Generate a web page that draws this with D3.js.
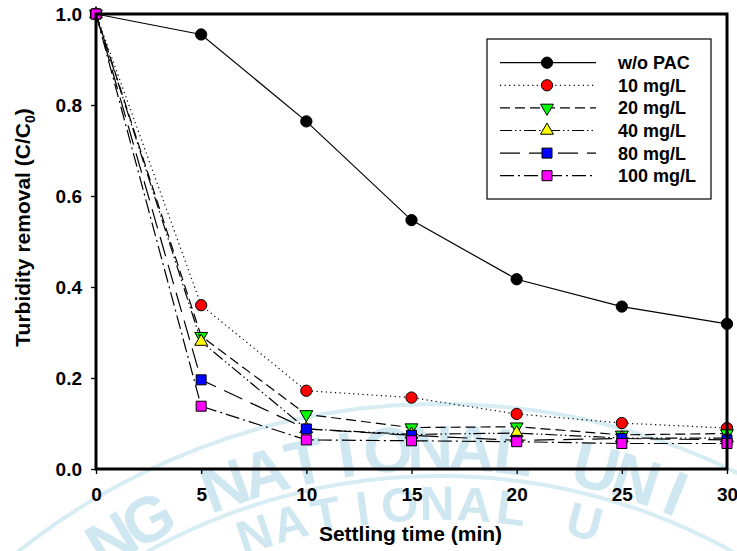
<!DOCTYPE html>
<html>
<head>
<meta charset="utf-8">
<script src="https://cdn.jsdelivr.net/npm/d3@7"></script>
<style>
  html, body { margin: 0; padding: 0; background: #fff; }
  svg { display: block; }
  text { font-family: "Liberation Sans", Arial, sans-serif; font-weight: bold; }
</style>
</head>
<body>
<svg id="chart" width="737" height="551"></svg>
<script>
// Settling time (min)
const times = [0, 5, 10, 15, 20, 25, 30];
// Normalised turbidity C/C0 for each PAC dose
const woPAC  = [1.0, 0.955, 0.764, 0.547, 0.417, 0.357, 0.319];
const mg10   = [1.0, 0.360, 0.172, 0.157, 0.121, 0.101, 0.090];
const mg20   = [1.0, 0.292, 0.120, 0.091, 0.093, 0.075, 0.078];
const mg40   = [1.0, 0.280, 0.088, 0.076, 0.079, 0.068, 0.068];
const mg80   = [1.0, 0.196, 0.088, 0.074, 0.063, 0.067, 0.064];
const mg100  = [1.0, 0.138, 0.064, 0.062, 0.060, 0.056, 0.056];
const seriesNames = ["w/o PAC", "10 mg/L", "20 mg/L", "40 mg/L", "80 mg/L", "100 mg/L"];
const xTicks = [0, 5, 10, 15, 20, 25, 30];
const yTicks = [0.0, 0.2, 0.4, 0.6, 0.8, 1.0];

const series = [
  { name: seriesNames[0], values: woPAC, fill: "#000000", symbol: "circle",  dash: null },
  { name: seriesNames[1], values: mg10,  fill: "#ff0000", symbol: "circle",  dash: "1.2,3.4" },
  { name: seriesNames[2], values: mg20,  fill: "#00ff00", symbol: "triDown", dash: "10,5" },
  { name: seriesNames[3], values: mg40,  fill: "#ffff00", symbol: "triUp",   dash: "12,3,1.5,3,1.5,3" },
  { name: seriesNames[4], values: mg80,  fill: "#0000ff", symbol: "square",  dash: "20,9" },
  { name: seriesNames[5], values: mg100, fill: "#ff00ff", symbol: "square",  dash: "14,4,2,4" }
];

const svg = d3.select("#chart");
const plot = { left: 96, right: 727, top: 14, bottom: 469 };

const x = d3.scaleLinear().domain([0, 30]).range([plot.left, plot.right]);
const y = d3.scaleLinear().domain([0, 1]).range([plot.bottom, plot.top]);

// ---- faint seal watermark behind the figure ----
const wm = svg.append("g").attr("class", "watermark");
const wmC = { x: 440, y: 1080 };
const wmColor = "#cfe7f0";
const rad = d => d * Math.PI / 180;
function arcPath(r, a0, a1) {
  const p0 = [wmC.x + r * Math.sin(rad(a0)), wmC.y - r * Math.cos(rad(a0))];
  const p1 = [wmC.x + r * Math.sin(rad(a1)), wmC.y - r * Math.cos(rad(a1))];
  return `M${p0[0]},${p0[1]} A${r},${r} 0 0 1 ${p1[0]},${p1[1]}`;
}
function ringText(str, r, startDeg, stepDeg, size) {
  str.split("").forEach((ch, i) => {
    if (ch === " ") return;
    const a = startDeg + i * stepDeg;
    const px = wmC.x + r * Math.sin(rad(a));
    const py = wmC.y - r * Math.cos(rad(a));
    wm.append("text")
      .attr("transform", `translate(${px},${py}) rotate(${a})`)
      .attr("text-anchor", "middle")
      .attr("font-size", size)
      .attr("fill", wmColor)
      .text(ch);
  });
}
[676, 604].forEach(r => {
  wm.append("path").attr("d", arcPath(r, -50, 50))
    .attr("fill", "none").attr("stroke", "#d8ecf3").attr("stroke-width", 4);
});
ringText("NG NATIONAL UNI", 610, -31.3, 3.8, 64);
ringText("NATIONAL U", 560, -18.8, 3.7, 48);

// ---- axes ----
const yAxis = d3.axisLeft(y).tickValues(yTicks).tickFormat(d3.format(".1f")).tickSize(5).tickPadding(9);
const xAxis = d3.axisBottom(x).tickValues(xTicks).tickFormat(d3.format("d")).tickSize(5).tickPadding(14);

const gy = svg.append("g").attr("transform", `translate(${plot.left},0)`).call(yAxis);
const gx = svg.append("g").attr("transform", `translate(0,${plot.bottom})`).call(xAxis);
[gx, gy].forEach(g => {
  g.select(".domain").remove();
  g.selectAll(".tick line").attr("stroke", "#000").attr("stroke-width", 1.3);
  g.selectAll(".tick text").attr("font-size", 19).attr("fill", "#000")
    .attr("font-family", "Liberation Sans, Arial, sans-serif").attr("font-weight", "bold");
});
gy.selectAll(".tick text").attr("dy", "0.36em");

// ---- series ----
const symbolPath = (type) => {
  if (type === "circle") return d3.symbol(d3.symbolCircle, 100)();
  if (type === "square") return d3.symbol(d3.symbolSquare, 100)();
  return d3.symbol(d3.symbolTriangle, 72)();
};
const symRotate = (type) => type === "triDown" ? " rotate(180)" : "";

const line = d3.line().x((d, i) => x(times[i])).y(d => y(d));

series.forEach(s => {
  const g = svg.append("g");
  g.append("path")
    .attr("d", line(s.values))
    .attr("fill", "none")
    .attr("stroke", "#000")
    .attr("stroke-width", 1.2)
    .attr("stroke-dasharray", s.dash);
  g.selectAll("path.sym").data(s.values).join("path")
    .attr("class", "sym")
    .attr("d", symbolPath(s.symbol))
    .attr("transform", (d, i) => `translate(${x(times[i])},${y(d)})${symRotate(s.symbol)}`)
    .attr("fill", s.fill)
    .attr("stroke", "#000")
    .attr("stroke-width", 1);
});

// ---- frame ----
svg.append("rect")
  .attr("x", plot.left).attr("y", plot.top)
  .attr("width", plot.right - plot.left).attr("height", plot.bottom - plot.top)
  .attr("fill", "none").attr("stroke", "#000").attr("stroke-width", 3);

// ---- legend ----
const legend = svg.append("g");
legend.append("rect")
  .attr("x", 487).attr("y", 39).attr("width", 224).attr("height", 160)
  .attr("fill", "#fff").attr("stroke", "#000").attr("stroke-width", 1.2);
const rowY = i => 62.7 + i * 22.6;
series.forEach((s, i) => {
  const ry = rowY(i);
  legend.append("line")
    .attr("x1", 500).attr("x2", 596).attr("y1", ry).attr("y2", ry)
    .attr("stroke", "#000").attr("stroke-width", 1.2)
    .attr("stroke-dasharray", s.dash);
  legend.append("path")
    .attr("d", symbolPath(s.symbol))
    .attr("transform", `translate(547,${ry})${symRotate(s.symbol)}`)
    .attr("fill", s.fill).attr("stroke", "#000").attr("stroke-width", 1);
  legend.append("text")
    .attr("x", 618).attr("y", ry).attr("dy", "0.36em")
    .attr("font-size", 18).attr("fill", "#000")
    .text(s.name);
});

// ---- axis titles ----
svg.append("text")
  .attr("x", (plot.left + plot.right) / 2 - 1).attr("y", 541)
  .attr("text-anchor", "middle").attr("font-size", 21).attr("fill", "#000")
  .text("Settling time (min)");

const yt = svg.append("text")
  .attr("transform", `translate(30,${(plot.top + plot.bottom) / 2 - 14}) rotate(-90)`)
  .attr("text-anchor", "middle").attr("font-size", 21).attr("fill", "#000");
yt.append("tspan").text("Turbidity removal (C/C");
yt.append("tspan").attr("font-size", 14).attr("dy", 5).text("0");
yt.append("tspan").attr("dy", -5).text(")");
</script>
</body>
</html>
